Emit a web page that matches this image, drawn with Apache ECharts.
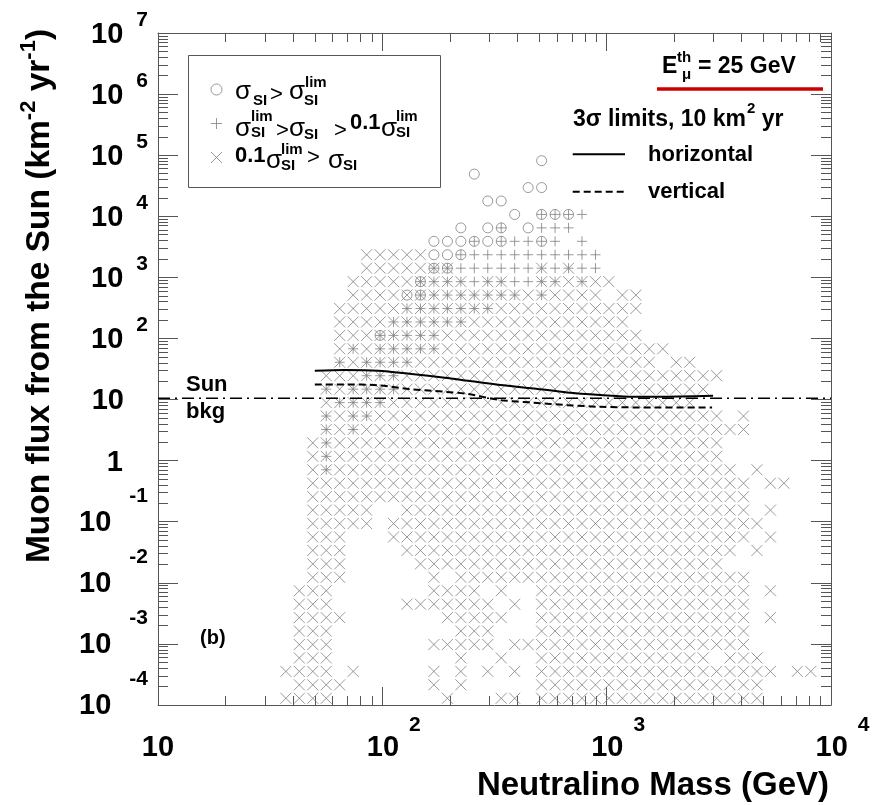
<!DOCTYPE html>
<html>
<head>
<meta charset="utf-8">
<title>Muon flux from the Sun vs neutralino mass</title>
<script src="https://cdn.jsdelivr.net/npm/echarts@6.0.0/dist/echarts.min.js"></script>
<style>html,body{margin:0;padding:0;background:#fff;}#chart{width:880px;height:805px;}</style>
</head>
<body>
<div id="chart"></div>
<script>
// ---- data ----
// mass bin centres (GeV), columns of the 50-bin log histogram that contain points
const massBins = [37.15, 42.66, 48.98, 56.23, 64.57, 74.13, 85.11, 97.72, 112.2, 128.8,
  147.9, 169.8, 195.0, 223.9, 257.0, 295.1, 338.8, 389.0, 446.7, 512.9,
  588.8, 676.1, 776.2, 891.3, 1023, 1175, 1349, 1549, 1778, 2042,
  2344, 2692, 3090, 3548, 4074, 4677, 5370, 6166, 7079, 8128, 9333];
// flux bin centres (km^-2 yr^-1), bottom row first
const fluxBins = [1.288e-4, 2.138e-4, 3.548e-4, 5.888e-4, 9.772e-4, 1.622e-3, 2.692e-3, 4.467e-3,
  7.413e-3, 1.230e-2, 2.042e-2, 3.388e-2, 5.623e-2, 9.333e-2, 0.1549, 0.2570, 0.4266, 0.7079,
  1.175, 1.950, 3.236, 5.370, 8.913, 14.79, 24.55, 40.74, 67.61, 112.2, 186.2, 309.0, 512.9,
  851.1, 1413, 2344, 3890, 6457, 10720, 17780, 29510, 48980, 81280];
// occupied bins, top flux row first, one character per mass bin:
// x = cross only, + = plus only, o = circle only, * = plus+cross, O = circle+plus, Q = circle+cross, @ = all three
const occupancy = [
  ".......... .........o .......... .......... .",
  ".......... ....o..... .......... .......... .",
  ".......... ........oo .......... .......... .",
  ".......... .....oo... .......... .......... .",
  ".......... .......o.O OO+....... .......... .",
  ".......... ...o.oO.o+ ++........ .......... .",
  ".......... .oooOoO++O +.+....... .......... .",
  "......xxxx xooO++++++ ++++...... .......... .",
  "......xxxx x@@++++++* +*++...... .......... .",
  ".....xxxxx @***+**++* *x*xx..... .......... .",
  ".....xxxxQ @*******x* xxxx.xx... .......... .",
  "....xxxxx* ******xxxx xxxxxxx... .......... .",
  "....xxxx** ****xxxxxx xxxxxx.... .......... .",
  "....xxx@** **xxxxxxxx xxxxxxx... .......... .",
  "....x*x*** **xxxxxxxx xxxxxxxxx. .......... .",
  "....*x**** xxxxxxxxxx xxxxxxxx.x x......... .",
  "...xxx***x xxxxxxxxxx xxxxxxxxxx xxx....... .",
  "...*x****x xxxxxxxxxx xxxxxxxxxx xx........ .",
  "...x****xx xxxxxxxxxx xxxxxxxxxx x......... .",
  "...*x**xxx xxxxxxxxxx xxxxxxxxxx xxx.x..... .",
  "...*x*xxxx xxxxxxxxxx xxxxxxxxxx xxxxx..... .",
  "..x*xxxxxx xxxxxxxxxx xxxxxxxxxx xxx....... .",
  "..x*xxxxxx xxxxxxxxxx xxxxxxxxxx xxx....... .",
  "..x*xxxxxx xxxxxxxxxx xxxxxxxxxx xxxx.x.... .",
  "..xxxxxxxx xxxxxxxxxx xxxxxxxxxx xxxxx.xx.. .",
  "..xxxxxxxx xxxxxxxxxx xxxxxxxxxx xxxxx..... .",
  "..xxxxx..x xxxxxxxxxx xxxxxxxxxx xxxxx.x... .",
  "..xxxxx.xx xxxxxxxxxx xxxxxxxxxx xxxxxx.... .",
  "..xxx...xx xxxxxxxxxx xxxxxxxxxx xxxxx.x... .",
  "..xxx....x xxxxxxxxxx xxxxxxxxxx xxxx.x.... .",
  "..xxx..... xxxxxxxxxx xxxxxxxxxx xxx....... .",
  "..xxx..... .x.xxxxxxx xxxxxxxxxx xxxxx..... .",
  ".xxx...... .xxxx.x..x xxxxxxxxxx xxxxx.x... .",
  ".xxx.....x xxxxxx.x.x xxxxxxxxxx xxxxx..... .",
  ".xxxx..... ..xxxxx..x xxxxxxxxxx xxxxx.x... .",
  ".xxx...... ...xxx...x xxxxxxxxxx xxxxx..... .",
  ".xxx...... .xxxxx.xxx xxxxxxxxxx xxxxx..... .",
  ".xxx...... ...x..x..x xxxxxxxxxx xx.xxx.... .",
  "xxxx.x.... .x.x.x.x.x xxxxxxxxxx xxxxxxx.xx .",
  ".xxxx..... .x.x.....x xxxxxxxxxx xxxxxx.... .",
  "xxxx...... ..x...xx.x xxxxxxxxxx xxxxxx.... ."
];
// 3 sigma limit curves (10 km^2 yr)
const hLimitMass = [50, 68, 96, 135, 190, 241, 336, 473, 665, 937, 1321, 1660, 2980];
const hLimitFlux = [29.6, 30.4, 29.6, 26.1, 22.8, 20.3, 17.3, 15.2, 13.1, 11.9, 11.1, 11.1, 11.5];
const vLimitMass = [50, 68, 96, 135, 190, 241, 336, 473, 665, 937, 1660, 2950];
const vLimitFlux = [17.7, 17.7, 17.1, 14.7, 13.4, 12.3, 9.8, 8.9, 8.1, 7.6, 7.4, 7.4];
// Sun background level
const sunBkgMass = [10, 10000];
const sunBkgFlux = [10.5, 10.5];
// axis decades
const xTickValues = [10, 100, 1000, 10000];
const yTickValues = [1e-4, 1e-3, 1e-2, 1e-1, 1, 10, 100, 1e3, 1e4, 1e5, 1e6, 1e7];

// ---- build ----
const L = Math.log10;
const FONT = '"Liberation Sans", Arial, Helvetica, sans-serif';
const AXC = '#555';
const GRAY = '#7f7f7f';

const circlePts = [], plusPts = [], crossPts = [];
occupancy.forEach(function (rowText, k) {
  const row = rowText.replace(/ /g, '');
  const flux = fluxBins[fluxBins.length - 1 - k];
  for (let p = 0; p < row.length; p++) {
    const c = row[p];
    if (c === '.') continue;
    const pt = [L(massBins[p]), L(flux)];
    if ('oOQ@'.indexOf(c) >= 0) circlePts.push(pt);
    if ('+*O@'.indexOf(c) >= 0) plusPts.push(pt);
    if ('x*Q@'.indexOf(c) >= 0) crossPts.push(pt);
  }
});

const xMin = L(xTickValues[0]), xMax = L(xTickValues[xTickValues.length - 1]);
const yMin = L(yTickValues[0]), yMax = L(yTickValues[yTickValues.length - 1]);
function minorTicks(lo, hi) {
  const out = [];
  for (let d = lo; d < hi; d++) for (let k = 2; k <= 9; k++) out.push(d + L(k));
  return out;
}
const minorX = minorTicks(xMin, xMax), minorY = minorTicks(yMin, yMax);
const negExponents = yTickValues.map(function (v) { return Math.round(L(v)); }).filter(function (e) { return e < 0; });

function lbl(size, pad) {
  return { fontFamily: FONT, fontWeight: 'bold', fontSize: size, color: '#000', lineHeight: 30, padding: pad };
}
const xRich = { b: lbl(29, [0, 0, 0, 23]), b0: lbl(29, [0, 0, 0, 0]), s: lbl(21, [0, 0, 45, 10]) };
const yRich = { b: lbl(29, [4, 0, 0, 0]), s: lbl(21, [0, 0, 26, 13]), one: lbl(29, [4, 25, 0, 0]),
  ten: lbl(29, [2, 24, 0, 0]), nb: lbl(29, [2, 36.7, 0, 0]) };
function xFmt(v) { const e = Math.round(v); return e === 1 ? '{b0|10}' : '{b|10}{s|' + e + '}'; }
function yFmt(v) {
  const e = Math.round(v);
  if (e === 0) return '{one|1}';
  if (e === 1) return '{ten|10}';
  if (e > 1) return '{b|10}{s|' + e + '}';
  return '{nb|10}';
}

function makeAxis(kind, pos, major, withLabels) {
  const isX = kind === 'x';
  const a = {
    type: 'value', gridIndex: 0, position: pos,
    min: isX ? xMin : yMin, max: isX ? xMax : yMax, interval: 1, silent: true,
    axisLine: { show: major, onZero: false, lineStyle: { color: AXC, width: 1 } },
    axisTick: { show: true, inside: true, length: major ? (isX ? 18 : 20) : (isX ? 9 : 10),
      lineStyle: { color: AXC, width: 1 } },
    splitLine: { show: false },
    axisLabel: { show: false }
  };
  if (!major) a.axisTick.customValues = isX ? minorX : minorY;
  if (withLabels) {
    a.axisLabel = { show: true, color: '#000', margin: isX ? 27.5 : 10, formatter: isX ? xFmt : yFmt,
      rich: isX ? xRich : yRich, showMinLabel: true, showMaxLabel: true, hideOverlap: false };
  }
  return a;
}
// ROOT style negative exponents sit on their own line above the "10": an axis shifted up by ~25 px
const negShift = 25.5 / (672 / (yMax - yMin));
const negExpAxis = {
  type: 'value', gridIndex: 0, position: 'left', min: yMin - negShift, max: yMax - negShift, silent: true,
  axisLine: { show: false, onZero: false }, axisTick: { show: false }, splitLine: { show: false },
  axisLabel: { show: true, customValues: negExponents, margin: 10, color: '#000', fontFamily: FONT,
    fontWeight: 'bold', fontSize: 21, formatter: function (v) { return String(Math.round(v)); } }
};

const scatterBase = { type: 'scatter', xAxisIndex: 0, yAxisIndex: 0, silent: true, emphasis: { disabled: true }, z: 3 };

function T(x, y, text, size, weight, extra) {
  return { type: 'text', x: x, y: y, z: 100, silent: true,
    style: Object.assign({ text: text, fill: '#000', fontFamily: FONT, fontSize: size,
      fontWeight: weight || 'bold', align: 'left', verticalAlign: 'middle' }, extra || {}) };
}
const N = 'normal';
const SG = 26;

const graphics = [
  // marker legend box
  { type: 'rect', z: 90, silent: true, shape: { x: 188.5, y: 55.5, width: 252, height: 132 },
    style: { fill: 'none', stroke: '#555', lineWidth: 1 } },
  // entry 1
  T(235, 92, 'σ', SG, N), T(253, 101, 'SI', 15), T(270, 95, '>', 22, N),
  T(289, 92, 'σ', SG, N), T(305, 83, 'lim', 15), T(304, 101, 'SI', 15),
  // entry 2
  T(235, 129, 'σ', SG, N), T(251, 117, 'lim', 15), T(251, 133, 'SI', 15), T(276, 131, '>', 22, N),
  T(289, 129, 'σ', SG, N), T(304, 135, 'SI', 15), T(334, 131, '>', 22, N),
  T(350, 123, '0.1', 22), T(381, 129, 'σ', SG, N), T(396, 117, 'lim', 15), T(396, 133, 'SI', 15),
  // entry 3
  T(235, 156, '0.1', 22), T(266, 161, 'σ', SG, N), T(281, 150, 'lim', 15), T(281, 166, 'SI', 15),
  T(307, 158, '>', 22, N), T(328, 161, 'σ', SG, N), T(343, 166, 'SI', 15),
  // threshold label and red line
  T(662, 66.5, 'E', 23), T(677, 58, 'th', 15), T(682, 75, 'μ', 15), T(698, 66.5, '= 25 GeV', 23),
  { type: 'line', z: 90, silent: true, shape: { x1: 657, y1: 89, x2: 823, y2: 89 },
    style: { stroke: '#cc0000', lineWidth: 3.5 } },
  // limits header and line key
  { type: 'text', x: 573, y: 119.5, z: 100, silent: true, style: {
    text: '{b|3σ limits, 10 km}{p|2}{b| yr}', fill: '#000', align: 'left', verticalAlign: 'middle',
    rich: { b: { fontFamily: FONT, fontWeight: 'bold', fontSize: 23, fill: '#000', lineHeight: 26 },
            p: { fontFamily: FONT, fontWeight: 'bold', fontSize: 15, fill: '#000', lineHeight: 26, padding: [0, 0, 21, 1] } } } },
  { type: 'line', z: 90, silent: true, shape: { x1: 572.7, y1: 154.3, x2: 625, y2: 154.3 },
    style: { stroke: '#000', lineWidth: 2 } },
  { type: 'line', z: 90, silent: true, shape: { x1: 572.7, y1: 191.7, x2: 625, y2: 191.7 },
    style: { stroke: '#000', lineWidth: 2, lineDash: [7, 4] } },
  T(648, 155, 'horizontal', 22), T(648, 192, 'vertical', 22),
  // annotations
  T(186, 385, 'Sun', 22), T(186, 412, 'bkg', 22), T(200, 638, '(b)', 20),
  // axis titles
  T(829, 786, 'Neutralino Mass (GeV)', 33, 'bold', { align: 'right' }),
  { type: 'text', x: 40, y: 296, rotation: Math.PI / 2, z: 100, silent: true, style: {
    text: '{t|Muon flux from the Sun (km}{s|-2}{t| yr}{s|-1}{t|)}', fill: '#000', align: 'center', verticalAlign: 'middle',
    rich: { t: { fontFamily: FONT, fontWeight: 'bold', fontSize: 33.5, fill: '#000', lineHeight: 36 },
            s: { fontFamily: FONT, fontWeight: 'bold', fontSize: 22, fill: '#000', lineHeight: 36, padding: [0, 0, 22, 0] } } } }
];

const option = {
  animation: false,
  backgroundColor: '#fff',
  grid: { left: 158, top: 33, width: 673, height: 672, containLabel: false, outerBoundsMode: 'none' },
  xAxis: [makeAxis('x', 'bottom', true, true), makeAxis('x', 'bottom', false, false),
          makeAxis('x', 'top', true, false), makeAxis('x', 'top', false, false)],
  yAxis: [makeAxis('y', 'left', true, true), makeAxis('y', 'left', false, false),
          makeAxis('y', 'right', true, false), makeAxis('y', 'right', false, false), negExpAxis],
  legend: [
    { data: ['sigmaAbove', 'sigmaBetween', 'sigmaBelow'], orient: 'vertical', left: 210.5, top: 83.5, padding: 0,
      itemWidth: 11, itemHeight: 11, itemGap: 22, selectedMode: false, formatter: function () { return ''; },
      textStyle: { fontSize: 11, lineHeight: 11 }, itemStyle: { borderWidth: 1 } }
  ],
  series: [
    Object.assign({}, scatterBase, { name: 'sigmaBelow', data: crossPts, symbol: 'path://M0,0L10,10M10,0L0,10', symbolSize: 11,
      itemStyle: { color: 'rgba(0,0,0,0)', borderColor: GRAY, borderWidth: 1 } }),
    Object.assign({}, scatterBase, { name: 'sigmaBetween', data: plusPts, symbol: 'path://M5,0L5,10M0,5L10,5', symbolSize: 10,
      itemStyle: { color: 'rgba(0,0,0,0)', borderColor: GRAY, borderWidth: 1 } }),
    Object.assign({}, scatterBase, { name: 'sigmaAbove', data: circlePts, symbol: 'circle', symbolSize: 10,
      itemStyle: { color: 'rgba(0,0,0,0)', borderColor: GRAY, borderWidth: 1 } }),
    { type: 'line', name: 'horizontal', xAxisIndex: 0, yAxisIndex: 0, silent: true, z: 5,
      data: hLimitMass.map(function (m, i) { return [L(m), L(hLimitFlux[i])]; }),
      symbol: 'none', smooth: 0.3, itemStyle: { color: '#000' }, lineStyle: { color: '#000', width: 2 } },
    { type: 'line', name: 'vertical', xAxisIndex: 0, yAxisIndex: 0, silent: true, z: 5,
      data: vLimitMass.map(function (m, i) { return [L(m), L(vLimitFlux[i])]; }),
      symbol: 'none', smooth: 0.3, itemStyle: { color: '#000' }, lineStyle: { color: '#000', width: 2, type: [7, 4] } },
    { type: 'line', name: 'Sun bkg', xAxisIndex: 0, yAxisIndex: 0, silent: true, z: 4,
      data: sunBkgMass.map(function (m, i) { return [L(m), L(sunBkgFlux[i])]; }),
      symbol: 'none', itemStyle: { color: '#000' }, lineStyle: { color: '#000', width: 1.5, type: [12, 5, 2, 5] } }
  ],
  graphic: graphics
};

const chart = echarts.init(document.getElementById('chart'), null, { renderer: 'canvas', width: 880, height: 805 });
chart.setOption(option);
</script>
</body>
</html>
